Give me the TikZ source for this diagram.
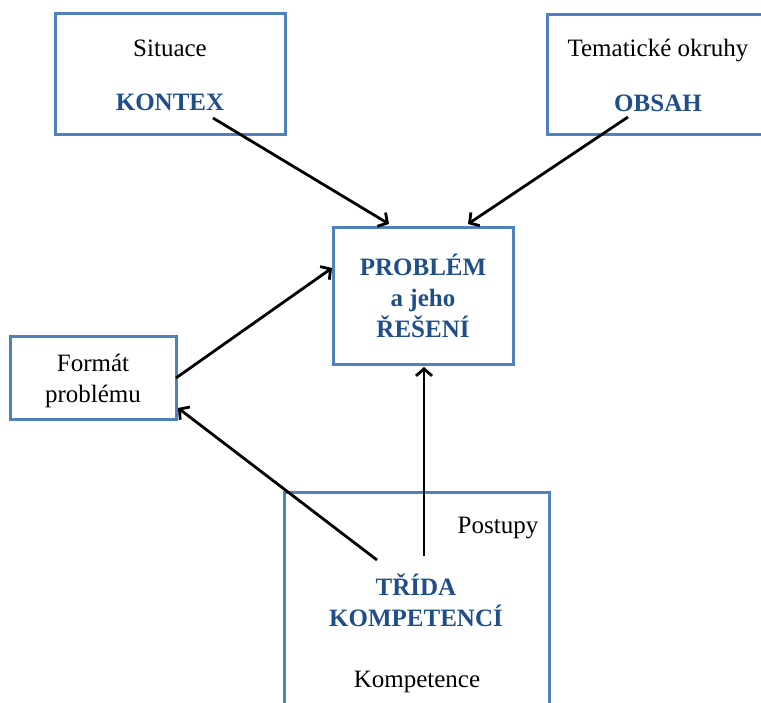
\documentclass[tikz,border=0pt]{standalone}
\usepackage{fontspec}
\setmainfont{Liberation Serif}
\usepackage{xcolor}
\usetikzlibrary{arrows.meta}
\definecolor{boxblue}{HTML}{4F81BD}
\definecolor{textblue}{HTML}{1F4E89}

\begin{document}
\begin{tikzpicture}[x=1pt,y=-1pt,
  box/.style = {draw=boxblue, line width=3pt, fill=white},
  every node/.style = {inner sep=0pt, anchor=base, font=\fontsize{25}{31}\selectfont},
  key/.style = {text=textblue, font=\fontsize{25}{31}\selectfont\bfseries},
  arr/.style = {line width=2.8pt, -{Straight Barb[length=7pt,width=16pt]}}]
  \clip (0,0) rectangle (761,703);
  \fill[white] (0,0) rectangle (761,703);

  % boxes
  \draw[box] (55,14) rectangle (285,135);
  \draw[box] (547,15) rectangle (775,135);
  \draw[box] (333,228) rectangle (513,365);
  \draw[box] (10,337) rectangle (176,420);
  \draw[box] (284,492) rectangle (549,720);

  % texts
  \node (situace) at (170,57) {Situace};
  \node[key] (kontex) at (170,111) {KONTEX};
  \node (okruhy) at (658,57) {Tematické okruhy};
  \node[key] (obsah) at (658,112) {OBSAH};
  \node[key] (problem) at (423,276) {PROBLÉM};
  \node[key] (ajeho) at (423,307) {a jeho};
  \node[key] (reseni) at (423,338) {ŘEŠENÍ};
  \node (format) at (93,372) {Formát};
  \node (problemu) at (93,403) {problému};
  \node (postupy) at (498,533) {Postupy};
  \node[key] (trida) at (416,595) {TŘÍDA};
  \node[key] (kompetenci) at (416,626) {KOMPETENCÍ};
  \node (kompetence) at (417,687) {Kompetence};

  % connectors
  \coordinate (k1) at (213,118);
  \coordinate (p1) at (389,224);
  \coordinate (o1) at (628,117);
  \coordinate (p2) at (468,224);
  \coordinate (f1) at (176,378);
  \coordinate (p3) at (332,268);
  \coordinate (t1) at (377,560);
  \coordinate (f2) at (178,408);
  \coordinate (t2) at (424,556);
  \coordinate (p4) at (424,367);
  \draw[arr] (k1) -- (p1);
  \draw[arr] (o1) -- (p2);
  \draw[arr] (f1) -- (p3);
  \draw[arr] (t1) -- (f2);
  \draw[arr] (t2) -- (p4);
\end{tikzpicture}
\end{document}
